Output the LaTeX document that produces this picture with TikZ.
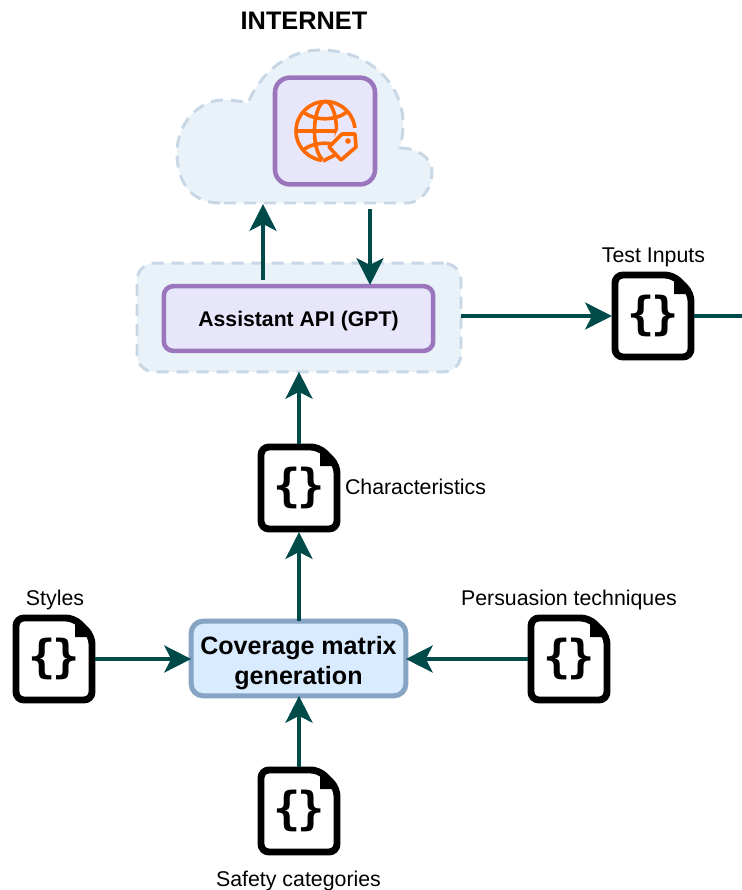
\documentclass[tikz,border=0pt]{standalone}
\usepackage{fontspec}
\setmainfont{Liberation Sans}
\newfontfamily\bracefont{DejaVu Sans Mono}
\usetikzlibrary{arrows.meta}

\definecolor{arrowgreen}{HTML}{004A4A}
\definecolor{groupfill}{HTML}{EAF2F9}
\definecolor{groupdash}{HTML}{C7D7E5}
\definecolor{apifill}{HTML}{E8E6FB}
\definecolor{apiline}{HTML}{9B76BD}
\definecolor{matrixfill}{HTML}{D9EBFE}
\definecolor{matrixline}{HTML}{86A4C4}
\definecolor{iconorange}{HTML}{FF6A00}

\tikzset{
	flow/.style={draw=arrowgreen,line width=3.7pt,-{Stealth[length=20pt,width=20pt,inset=5pt]}},
	plainflow/.style={draw=arrowgreen,line width=3.7pt},
	groupbox/.style={draw=groupdash,fill=groupfill,line width=2.2pt,dash pattern=on 9pt off 6pt,rounded corners=13pt},
	apibox/.style={draw=apiline,fill=apifill,line width=3.4pt,rounded corners=7pt,align=center},
	matrixbox/.style={draw=matrixline,fill=matrixfill,line width=3.8pt,rounded corners=9pt,align=center},
	docline/.style={draw=black,fill=white,line width=5.2pt,rounded corners=6pt},
	docnode/.style={minimum width=61.5pt,minimum height=66pt,inner sep=0pt,outer sep=0pt},
	label/.style={inner sep=0pt,outer sep=0pt,font=\fontsize{16}{16}\selectfont},
	globeline/.style={draw=iconorange,line width=2.7pt},
}

\newcommand{\jsondoc}[2]{
	\draw[docline,shift={(#2)}] (-38,-41) -- (20,-41) -- (38,-23) -- (38,41) -- (-38,41) -- cycle;
	\fill[black,shift={(#2)}] (21,-41) -- (40,-22) -- (21,-22) -- cycle;
	\node[docnode,font=\bracefont\bfseries\fontsize{34}{34}\selectfont] (#1) at (#2) {\{\hspace{-2pt}\}};
}

\begin{document}
\begin{tikzpicture}[x=0.75pt,y=-0.75pt,inner sep=0pt,outer sep=0pt]
	\useasboundingbox[fill=white] (0,0) rectangle (742,890);

	% cloud
	\draw[groupbox,rounded corners=0pt] (220,203)
		.. controls (190,203) and (177,180) .. (177,153)
		.. controls (177,122) and (200,100) .. (223,100)
		.. controls (232,100) and (240,101) .. (248,103)
		.. controls (262,70) and (290,50) .. (320,50)
		.. controls (370,50) and (403,85) .. (403,123)
		.. controls (403,133) and (402,140) .. (400,148)
		.. controls (418,148) and (432,158) .. (432,172)
		.. controls (432,190) and (420,203) .. (407,203) -- cycle;
	\node[apibox,minimum width=75pt,minimum height=80pt,rounded corners=11pt] (web) at (325,131) {};

	% globe
	\draw[globeline] (325.5,131) circle[radius=29.5];
	\draw[globeline] (325.5,131) ellipse[x radius=11,y radius=29.5];
	\draw[globeline] (296,131) -- (354,131);
	\draw[globeline] (303,112) .. controls (315,121) and (335,121) .. (347,112);
	\draw[globeline] (303,150) .. controls (315,141) and (335,141) .. (347,150);
	\fill[apifill] (339,128) -- (364,128) -- (364,165) -- (320,165) -- cycle;
	\draw[globeline,line join=round] (355,134) -- (356,147) -- (341,160) -- (329,147) -- (342,134) -- cycle;
	\fill[iconorange] (348,141) circle[radius=2.8];
	\draw[globeline] (323,161) -- (335,155);

	% api
	\node[groupbox,minimum width=243pt,minimum height=81.5pt] (apigroup) at (299,317.5) {};
	\node[apibox,minimum width=202pt,minimum height=48.5pt,font=\bfseries\fontsize{15.9}{15.9}\selectfont] (assistant) at (298.5,318.5) {\rule{0pt}{15.5pt}Assistant API (GPT)};
	\node[matrixbox,minimum width=161pt,minimum height=56pt,font=\bfseries\fontsize{18.8}{22.5}\selectfont] (matrix) at (298.5,658.5) {\rule{0pt}{20pt}Coverage matrix\\generation};

	% inputs
	\jsondoc{testdoc}{653,316}
	\jsondoc{chardoc}{299,488}
	\jsondoc{styledoc}{54,659}
	\jsondoc{persdoc}{569,659}
	\jsondoc{safedoc}{299,811}

	% text
	\node[label,anchor=base] (internetlabel) at (304,29) {\fontsize{19}{19}\selectfont\bfseries INTERNET};
	\node[label,anchor=base] (testlabel) at (653.5,262) {Test Inputs};
	\node[label,anchor=base west] (charlabel) at (345,494) {Characteristics};
	\node[label,anchor=base] (stylelabel) at (55,605) {Styles};
	\node[label,anchor=base] (perslabel) at (569,605) {Persuasion techniques};
	\node[label,anchor=base] (safelabel) at (298.5,886) {Safety categories};

	% connectors
	\coordinate (cloudin) at (263,204);
	\coordinate (apiout) at (263,280);
	\coordinate (cloudout) at (370,209);
	\coordinate (apiin) at (370,285);
	\coordinate (rightend) at (742,316);
	\draw[flow] (apiout) -- (cloudin);
	\draw[flow] (cloudout) -- (apiin);
	\draw[flow] (apigroup.east |- testdoc.west) -- (testdoc.west);
	\draw[plainflow] (testdoc.east) -- (rightend);
	\draw[flow] (chardoc.north) -- (apigroup.south -| chardoc.north);
	\draw[flow] (matrix.north -| chardoc.south) -- (chardoc.south);
	\draw[flow] (styledoc.east) -- (styledoc.east -| matrix.west);
	\draw[flow] (persdoc.west) -- (persdoc.west -| matrix.east);
	\draw[flow] (safedoc.north) -- (safedoc.north |- matrix.south);
\end{tikzpicture}
\end{document}
